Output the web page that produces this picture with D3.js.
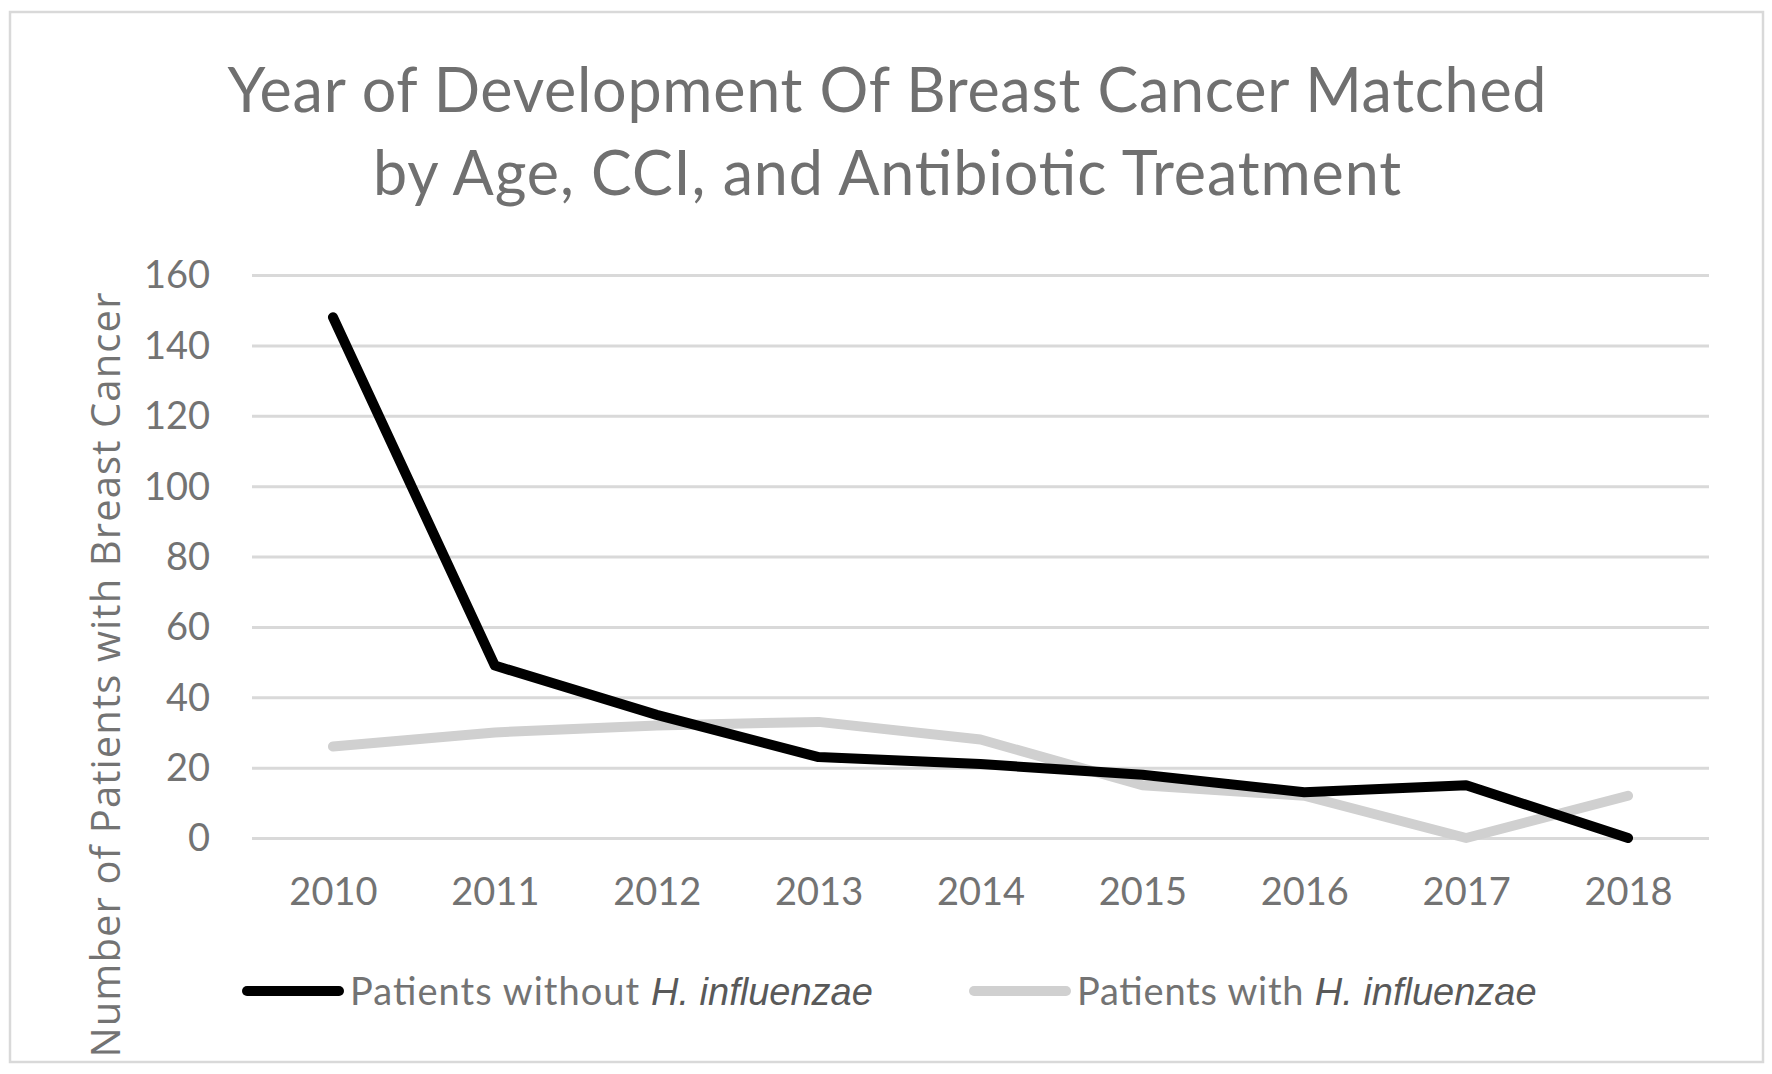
<!DOCTYPE html>
<html lang="en">
<head>
<meta charset="UTF-8">
<title>Year of Development Of Breast Cancer</title>
<script src="https://d3js.org/d3.v7.min.js"></script>
<style>
    body { margin: 0; background: #fff; }
    svg { display: block; font-family: Lato, "Open Sans", sans-serif; }
    .grid line { stroke: #d9d9d9; stroke-width: 3px; }
    .grid .domain { display: none; }
    .tick text { fill: #737373; font-size: 38px; font-family: Lato, sans-serif; }
    .series { fill: none; stroke-width: 10px; stroke-linejoin: round; stroke-linecap: round; }
</style>
</head>
<body>
<script>
    // chart data
    const years = ["2010", "2011", "2012", "2013", "2014", "2015", "2016", "2017", "2018"];
    const withoutHi = [148, 49, 35, 23, 21, 18, 13, 15, 0];
    const withHi = [26, 30, 32, 33, 28, 15, 12, 0, 12];
    const yTicks = [0, 20, 40, 60, 80, 100, 120, 140, 160];
    const seriesNames = ["Patients without ", "Patients with "];
    const seriesColors = ["#000000", "#d0d0d0"];

    const width = 1772, height = 1074;
    const plotL = 252, plotR = 1709, plotT = 275, plotB = 838;

    const svg = d3.select("body").append("svg")
        .attr("width", width)
        .attr("height", height);

    // chart border
    svg.append("rect")
        .attr("x", 10).attr("y", 12)
        .attr("width", 1753).attr("height", 1050)
        .attr("fill", "#fff")
        .attr("stroke", "#d9d9d9")
        .attr("stroke-width", 2.5);

    // title
    const title = svg.append("text")
        .attr("text-anchor", "middle")
        .attr("fill", "#707070")
        .style("font-size", "61px");
    title.append("tspan").attr("x", 887).attr("y", 112)
        .attr("textLength", 1319).attr("lengthAdjust", "spacing")
        .text("Year of Development Of Breast Cancer Matched");
    title.append("tspan").attr("x", 887).attr("y", 195)
        .attr("textLength", 1028).attr("lengthAdjust", "spacing")
        .text("by Age, CCI, and Antibiotic Treatment");

    const x = d3.scalePoint().domain(years).range([plotL, plotR]).padding(0.5);
    const y = d3.scaleLinear().domain([0, 160]).range([plotB, plotT]);

    // horizontal gridlines + y tick labels
    svg.append("g")
        .attr("class", "grid")
        .attr("transform", `translate(${plotL},0)`)
        .call(d3.axisLeft(y).tickValues(yTicks).tickSize(-(plotR - plotL)).tickPadding(42))
        .call(g => g.selectAll(".tick text").attr("dy", "0.34em"));

    // x tick labels
    svg.append("g")
        .attr("class", "grid")
        .attr("transform", `translate(0,${plotB})`)
        .call(d3.axisBottom(x).tickSize(0).tickPadding(40))
        .call(g => g.selectAll(".tick line").remove());

    // y axis title
    svg.append("text")
        .attr("transform", "translate(120,675) rotate(-90)")
        .attr("text-anchor", "middle")
        .attr("fill", "#737373")
        .attr("textLength", 765).attr("lengthAdjust", "spacing")
        .style("font-family", "'Open Sans', sans-serif")
        .style("font-size", "40px")
        .text("Number of Patients with Breast Cancer");

    // lines
    const line = d3.line()
        .x((d, i) => x(years[i]))
        .y(d => y(d));

    [withHi, withoutHi].forEach((vals, k) => {
        svg.append("path")
            .datum(vals)
            .attr("class", "series")
            .attr("stroke", k === 0 ? seriesColors[1] : seriesColors[0])
            .attr("d", line);
    });

    // legend
    const legendX = [243, 970];
    const legendLen = [300, 237];
    seriesNames.forEach((name, i) => {
        const g = svg.append("g").attr("transform", `translate(${legendX[i]},991)`);
        g.append("line")
            .attr("x1", 4).attr("x2", 96)
            .attr("stroke", seriesColors[i])
            .attr("stroke-width", 10)
            .attr("stroke-linecap", "round");
        const t = g.append("text")
            .attr("x", 107).attr("y", 14)
            .attr("fill", "#737373")
            .style("font-size", "38px");
        t.append("tspan")
            .attr("textLength", legendLen[i]).attr("lengthAdjust", "spacing")
            .text(name);
        t.append("tspan")
            .attr("fill", "#595959")
            .style("font-style", "italic")
            .style("font-family", "'Liberation Sans', Arial, sans-serif")
            .style("font-size", "38px")
            .text("H. influenzae");
    });
</script>
</body>
</html>
